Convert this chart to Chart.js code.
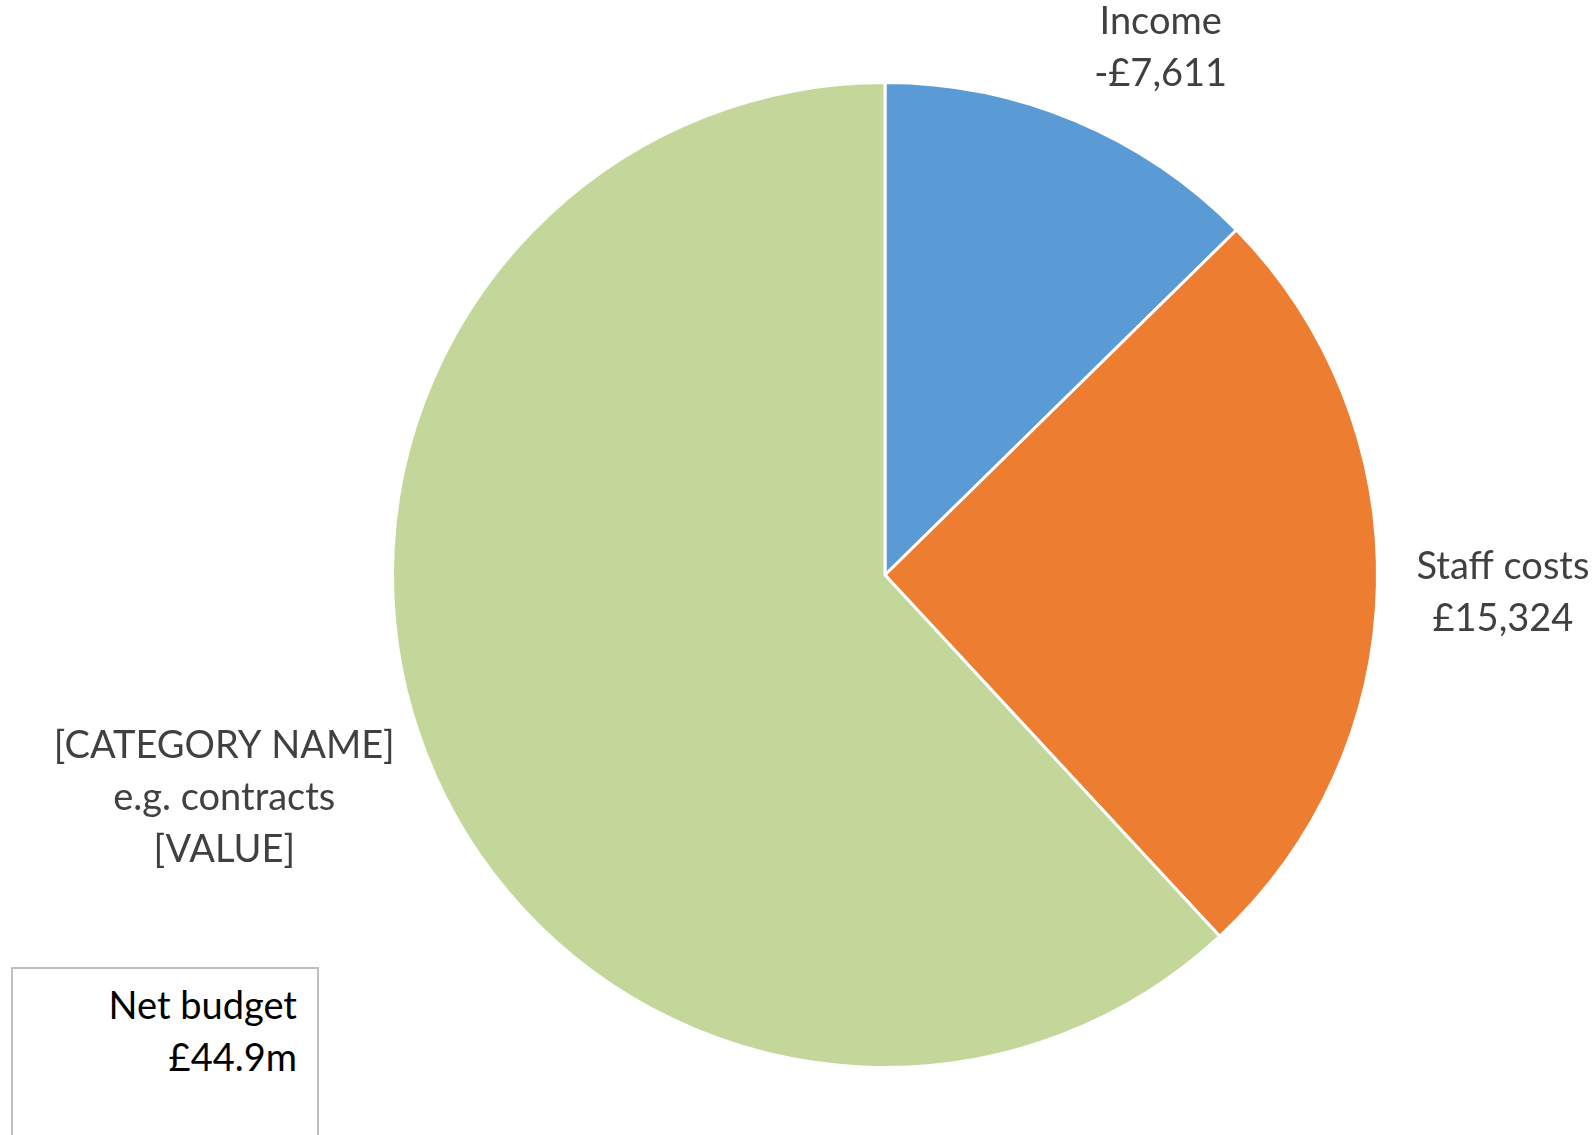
<!DOCTYPE html>
<html>
<head>
<meta charset="utf-8">
<script src="https://cdn.jsdelivr.net/npm/chart.js@4.4.0/dist/chart.umd.min.js"></script>
<style>
  html, body { margin: 0; padding: 0; background: #fff; }
  #wrap { position: relative; width: 1595px; height: 1135px; }
  #budget {
    position: absolute; left: 11px; top: 967px; width: 308px; height: 190px;
    box-sizing: border-box; border: 2px solid #bfbfbf; background: #fff;
    font-family: Lato, sans-serif; font-size: 38px; line-height: 52px; color: #000;
    text-align: right; padding: 9px 20px 0 0;
  }
</style>
</head>
<body>
<div id="wrap">
  <canvas id="canvas" width="1595" height="1135"></canvas>
  <div id="budget">Net budget<br>£44.9m</div>
</div>
<script>
const categoryLines = [['Income'], ['Staff costs'], ['[CATEGORY NAME]', 'e.g. contracts']];
const values = [-7611, 15324, 37250];
const valueLabels = ['-£7,611', '£15,324', '[VALUE]'];
const sliceColors = ['#5b9bd5', '#ed7d31', '#c4d79b'];

// outside-end labels, placed from each arc's own geometry
const sliceLabels = {
  id: 'sliceLabels',
  afterDatasetsDraw(chart, args, opts) {
    const ctx = chart.ctx;
    const meta = chart.getDatasetMeta(0);
    ctx.save();
    ctx.font = opts.font;
    ctx.fillStyle = opts.color;
    ctx.textAlign = 'center';
    ctx.textBaseline = 'middle';
    meta.data.forEach((arc, i) => {
      const lines = categoryLines[i].concat(valueLabels[i]);
      const w = Math.max(...lines.map(l => ctx.measureText(l).width));
      const h = lines.length * opts.lineHeight;
      const mid = (arc.startAngle + arc.endAngle) / 2;
      const ux = Math.cos(mid), uy = Math.sin(mid);
      const reach = w / 2 * Math.abs(ux) + h / 2 * Math.abs(uy);
      const d = arc.outerRadius + opts.gap + reach;
      const nudge = opts.nudge[i] || [0, 0];
      const cx = arc.x + ux * d + nudge[0];
      const cy = arc.y + uy * d + nudge[1];
      lines.forEach((l, j) => {
        ctx.fillText(l, cx, cy + (j - (lines.length - 1) / 2) * opts.lineHeight);
      });
    });
    ctx.restore();
  }
};

const ctx = document.getElementById('canvas').getContext('2d');
new Chart(ctx, {
  type: 'pie',
  data: {
    labels: categoryLines.map(l => l.join(' ')),
    datasets: [{
      data: values.map(v => Math.abs(v)),
      backgroundColor: sliceColors,
      borderColor: '#ffffff',
      borderWidth: 3
    }]
  },
  options: {
    responsive: false,
    devicePixelRatio: 1,
    animation: false,
    layout: { padding: { left: 391, right: 216, top: 81, bottom: 66 } },
    plugins: {
      legend: { display: false },
      tooltip: { enabled: false },
      sliceLabels: {
        font: '38px Lato, sans-serif',
        color: '#404040',
        lineHeight: 52,
        gap: 30,
        nudge: [[45, 22], [8, 3], [0, -36]]
      }
    }
  },
  plugins: [sliceLabels]
});
</script>
</body>
</html>
